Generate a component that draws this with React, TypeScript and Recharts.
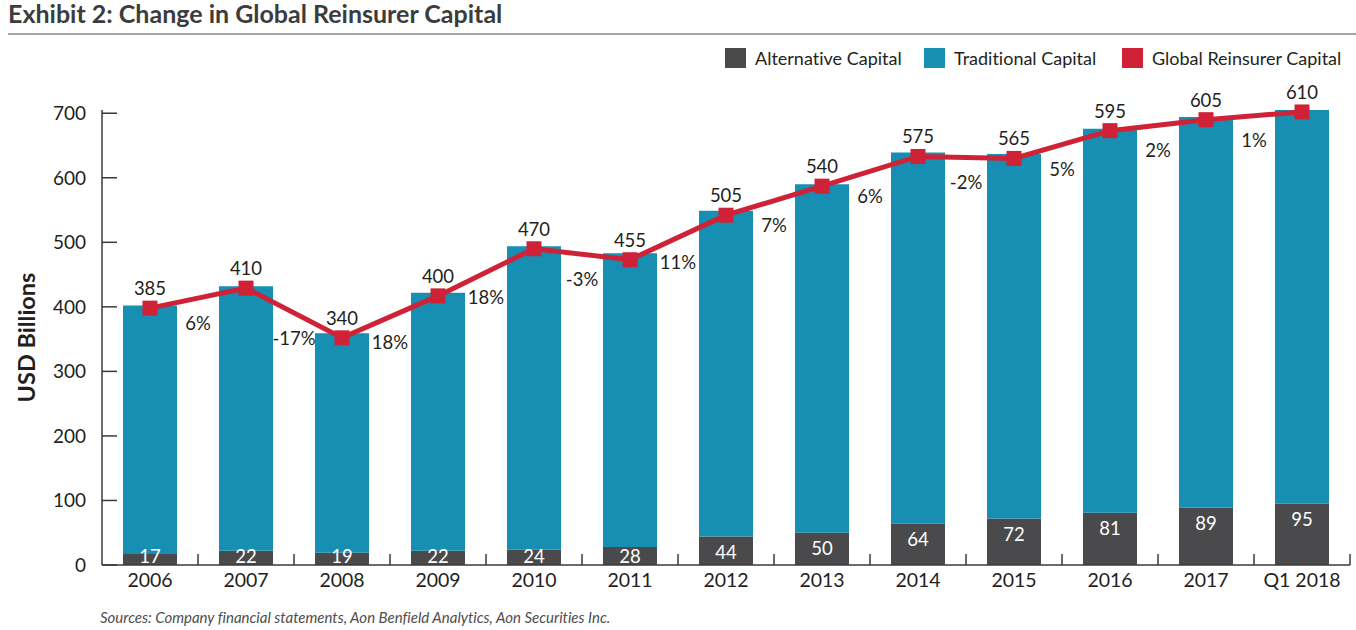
import React from 'react';
import { ComposedChart, Bar, Line, XAxis, YAxis, LabelList } from 'recharts';

// ---------- data ----------
const categories = ['2006', '2007', '2008', '2009', '2010', '2011', '2012', '2013', '2014', '2015', '2016', '2017', 'Q1 2018'];
const alternativeCapital = [17, 22, 19, 22, 24, 28, 44, 50, 64, 72, 81, 89, 95];
const traditionalCapital = [385, 410, 340, 400, 470, 455, 505, 540, 575, 565, 595, 605, 610];
const globalReinsurerCapital = [398, 429, 352, 417, 490, 473, 542, 587, 633, 630, 673, 690, 702];
const changeLabels = ['6%', '-17%', '18%', '18%', '-3%', '11%', '7%', '6%', '-2%', '5%', '2%', '1%'];
const yTicks = [0, 100, 200, 300, 400, 500, 600, 700];

const legendItems = [
  { label: 'Alternative Capital', key: 'alt' },
  { label: 'Traditional Capital', key: 'trad' },
  { label: 'Global Reinsurer Capital', key: 'global' },
];

// ---------- style / layout ----------
const W = 1356;
const H = 630;
const X_AXIS_H = 30;
const MARGIN = { top: 110, right: 6, bottom: 65 - X_AXIS_H, left: 0 };
const Y_AXIS_W = 102;
const PLOT_W = W - MARGIN.left - MARGIN.right - Y_AXIS_W;
const BAND = PLOT_W / categories.length;
const Y_TICK_MARGIN = 16;
const X_TICK_MARGIN = 8;

const FONT = 'Lato, "Open Sans", sans-serif';
const TEXT = '#231f20';
const AXIS = '#3a3a3a';
const DARK = '#4a4a4c';
const BLUE = '#168fb3';
const RED = '#cf2236';

const colors: Record<string, string> = { alt: DARK, trad: BLUE, global: RED };

const data = categories.map((c, i) => ({
  category: c,
  alt: alternativeCapital[i],
  trad: traditionalCapital[i],
  global: globalReinsurerCapital[i],
  mid: i < categories.length - 1 ? (globalReinsurerCapital[i] + globalReinsurerCapital[i + 1]) / 2 : null,
}));

const pos = (p: any) => {
  const vb = p.viewBox || {};
  return {
    x: p.x ?? vb.x,
    y: p.y ?? vb.y,
    w: p.width ?? vb.width ?? 0,
    h: p.height ?? vb.height ?? 0,
  };
};

const YTick = (props: any) => {
  const { x, y, payload } = props;
  const axisX = x + Y_TICK_MARGIN;
  return (
    <g>
      <line x1={axisX} x2={axisX + 15} y1={y} y2={y} stroke={AXIS} strokeWidth={1.5} />
      <text x={x} y={y} dy="0.36em" textAnchor="end" fontFamily={FONT} fontSize={19} fill={TEXT}>
        {payload.value}
      </text>
    </g>
  );
};

const XTick = (props: any) => {
  const { x, y, payload } = props;
  const axisY = y - X_TICK_MARGIN;
  const bx = x + BAND / 2;
  return (
    <g>
      <line x1={bx} x2={bx} y1={axisY} y2={axisY - 11} stroke={AXIS} strokeWidth={1.5} />
      <text x={x} y={y} dy="0.74em" textAnchor="middle" fontFamily={FONT} fontSize={19.5} fill={TEXT}>
        {payload.value}
      </text>
    </g>
  );
};

const SquareDot = (props: any) => {
  const { cx, cy, index } = props;
  if (cx == null || cy == null) return <g key={`d${index}`} />;
  return <rect key={`d${index}`} x={cx - 7.5} y={cy - 7.5} width={15} height={15} fill={RED} />;
};

const AltLabel = (props: any) => {
  const { x, y, w, h } = pos(props);
  if (x == null || y == null) return null;
  const cy = Math.min(y + 16, y + h - 8.5);
  return (
    <text x={x + w / 2} y={cy} dy="0.36em" textAnchor="middle" fontFamily={FONT} fontSize={18.5} fill="#ffffff">
      {props.value}
    </text>
  );
};

const TradLabel = (props: any) => {
  const { x, y } = pos(props);
  if (x == null || y == null) return null;
  const i = props.index;
  const v = i != null ? traditionalCapital[i] : props.value;
  return (
    <text x={x} y={y - 13} textAnchor="middle" fontFamily={FONT} fontSize={18.5} fill={TEXT}>
      {v}
    </text>
  );
};

const PctLabel = (props: any) => {
  const { x, y } = pos(props);
  const i = props.index;
  if (x == null || y == null || i == null || i >= changeLabels.length) return null;
  return (
    <text x={x + BAND / 2} y={y + 25} dy="0.36em" textAnchor="middle" fontFamily={FONT} fontSize={18.5} fill={TEXT}>
      {changeLabels[i]}
    </text>
  );
};

const YLabel = (props: any) => {
  const vb = props.viewBox || { x: 0, y: MARGIN.top, width: Y_AXIS_W, height: H - MARGIN.top - 65 };
  const cx = vb.x + 27;
  const cy = vb.y + vb.height / 2;
  return (
    <text
      x={cx}
      y={cy}
      transform={`rotate(-90 ${cx} ${cy})`}
      dy="0.36em"
      textAnchor="middle"
      fontFamily={FONT}
      fontSize={23.5}
      fontWeight={700}
      fill={TEXT}
    >
      USD Billions
    </text>
  );
};

const legendLefts = [725, 924, 1122];

export default function App() {
  return (
    <div
      style={{
        position: 'absolute',
        left: 0,
        top: 0,
        width: W,
        height: H,
        background: '#fff',
        fontFamily: FONT,
        fontVariantLigatures: 'none',
      }}
    >
      <div
        style={{
          position: 'absolute',
          left: 8,
          top: -1,
          lineHeight: '28px',
          fontSize: 25,
          fontWeight: 700,
          color: '#3c3c3d',
          whiteSpace: 'nowrap',
        }}
      >
        Exhibit 2: Change in Global Reinsurer Capital
      </div>
      <div style={{ position: 'absolute', left: 8, top: 33, width: W - 8, height: 2, background: '#a6a6a6' }} />
      {legendItems.map((it, i) => (
        <div
          key={it.key}
          style={{
            position: 'absolute',
            left: legendLefts[i],
            top: 48,
            height: 20,
            display: 'flex',
            alignItems: 'center',
            whiteSpace: 'nowrap',
          }}
        >
          <div style={{ width: 21, height: 20, background: colors[it.key], marginRight: 9 }} />
          <span style={{ fontSize: 18, color: TEXT, lineHeight: '20px' }}>{it.label}</span>
        </div>
      ))}
      <div style={{ position: 'absolute', left: 0, top: 0 }}>
        <ComposedChart width={W} height={H} data={data} margin={MARGIN}>
          <XAxis
            dataKey="category"
            height={X_AXIS_H}
            interval={0}
            tickSize={0}
            tickMargin={X_TICK_MARGIN}
            tickLine={false}
            axisLine={{ stroke: AXIS, strokeWidth: 1.5 }}
            tick={<XTick />}
          />
          <YAxis
            width={Y_AXIS_W}
            domain={[0, 700]}
            ticks={yTicks}
            interval={0}
            tickSize={0}
            tickMargin={Y_TICK_MARGIN}
            tickLine={false}
            axisLine={{ stroke: AXIS, strokeWidth: 1.5 }}
            tick={<YTick />}
            label={<YLabel />}
          />
          <Bar dataKey="alt" stackId="cap" fill={DARK} barSize={54} isAnimationActive={false}>
            <LabelList dataKey="alt" content={<AltLabel />} />
          </Bar>
          <Bar dataKey="trad" stackId="cap" fill={BLUE} barSize={54} isAnimationActive={false} />
          <Line
            dataKey="global"
            stroke={RED}
            strokeWidth={5}
            dot={<SquareDot />}
            activeDot={false}
            isAnimationActive={false}
          >
            <LabelList dataKey="global" content={<TradLabel />} />
          </Line>
          <Line
            dataKey="mid"
            stroke="none"
            dot={false}
            activeDot={false}
            legendType="none"
            isAnimationActive={false}
          >
            <LabelList dataKey="mid" content={<PctLabel />} />
          </Line>
        </ComposedChart>
      </div>
      <div
        style={{
          position: 'absolute',
          left: 100,
          top: 608,
          fontSize: 15,
          fontStyle: 'italic',
          color: '#4d4d4f',
          whiteSpace: 'nowrap',
          lineHeight: '18px',
        }}
      >
        Sources: Company financial statements, Aon Benfield Analytics, Aon Securities Inc.
      </div>
    </div>
  );
}
